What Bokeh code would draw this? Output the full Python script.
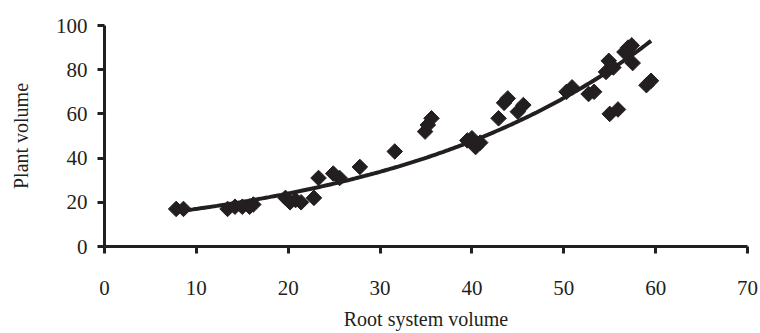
import numpy as np
from bokeh.plotting import figure
from bokeh.models import Range1d, FixedTicker
from bokeh.embed import file_html
from bokeh.resources import INLINE

root_volume = [7.8, 8.6, 13.4, 14.2, 15.0, 15.8, 16.2, 19.7, 20.2, 20.8, 21.4, 22.8, 23.3,
               24.9, 25.6, 27.8, 31.6, 34.9, 35.2, 35.6, 39.5, 40.0, 40.4, 40.9, 42.9, 43.5,
               43.9, 45.0, 45.6, 50.3, 50.9, 52.7, 53.3, 54.6, 54.9, 55.0, 55.4, 55.9, 56.6,
               57.0, 57.4, 57.5, 59.0, 59.5]
plant_volume = [17, 17, 17, 18, 18, 18, 19, 22, 20, 21, 20, 22, 31,
                33, 31, 36, 43, 52, 55, 58, 48, 49, 45, 47, 58, 65,
                67, 61, 64, 70, 72, 69, 70, 79, 84, 60, 81, 62, 88,
                90, 91, 83, 73, 75]
x_ticks = [0, 10, 20, 30, 40, 50, 60, 70]
y_ticks = [0, 20, 40, 60, 80, 100]

INK = "#231f20"
FONT = "Liberation Serif"

# exponential trend line fitted to the data (least squares on log y)
xs = np.array(root_volume, dtype=float)
ys = np.array(plant_volume, dtype=float)
b, ln_a = np.polyfit(xs, np.log(ys), 1)
xt = np.linspace(xs.min(), xs.max(), 200)
yt = np.exp(ln_a) * np.exp(b * xt)

p = figure(width=760, height=333, output_backend="svg", toolbar_location=None,
           x_range=Range1d(0, 70), y_range=Range1d(0, 100),
           min_border_left=104, min_border_right=13, min_border_top=25, min_border_bottom=87)
p.outline_line_color = None
p.grid.visible = False
p.background_fill_color = "white"
p.border_fill_color = "white"

p.line(xt, yt, line_color=INK, line_width=4)
p.scatter(root_volume, plant_volume, marker="square", size=11, angle=np.pi / 4,
          fill_color=INK, line_color=INK, line_width=1)

for ax in (p.xaxis[0], p.yaxis[0]):
    ax.axis_line_color = INK
    ax.axis_line_width = 3
    ax.major_tick_line_color = INK
    ax.major_tick_line_width = 3
    ax.major_tick_in = 0
    ax.major_tick_out = 7
    ax.minor_tick_line_color = None
    ax.major_label_text_font = FONT
    ax.major_label_text_font_size = "21px"
    ax.major_label_text_color = INK
    ax.axis_label_text_font = FONT
    ax.axis_label_text_font_size = "20px"
    ax.axis_label_text_font_style = "normal"
    ax.axis_label_text_color = INK

p.xaxis.ticker = FixedTicker(ticks=x_ticks)
p.yaxis.ticker = FixedTicker(ticks=y_ticks)
p.xaxis.major_label_standoff = 27
p.yaxis.major_label_standoff = 10
p.xaxis.axis_label = "Root system volume"
p.yaxis.axis_label = "Plant volume"
p.xaxis.axis_label_standoff = 10
p.yaxis.axis_label_standoff = 21

open("out.html", "w").write(file_html(p, INLINE))
